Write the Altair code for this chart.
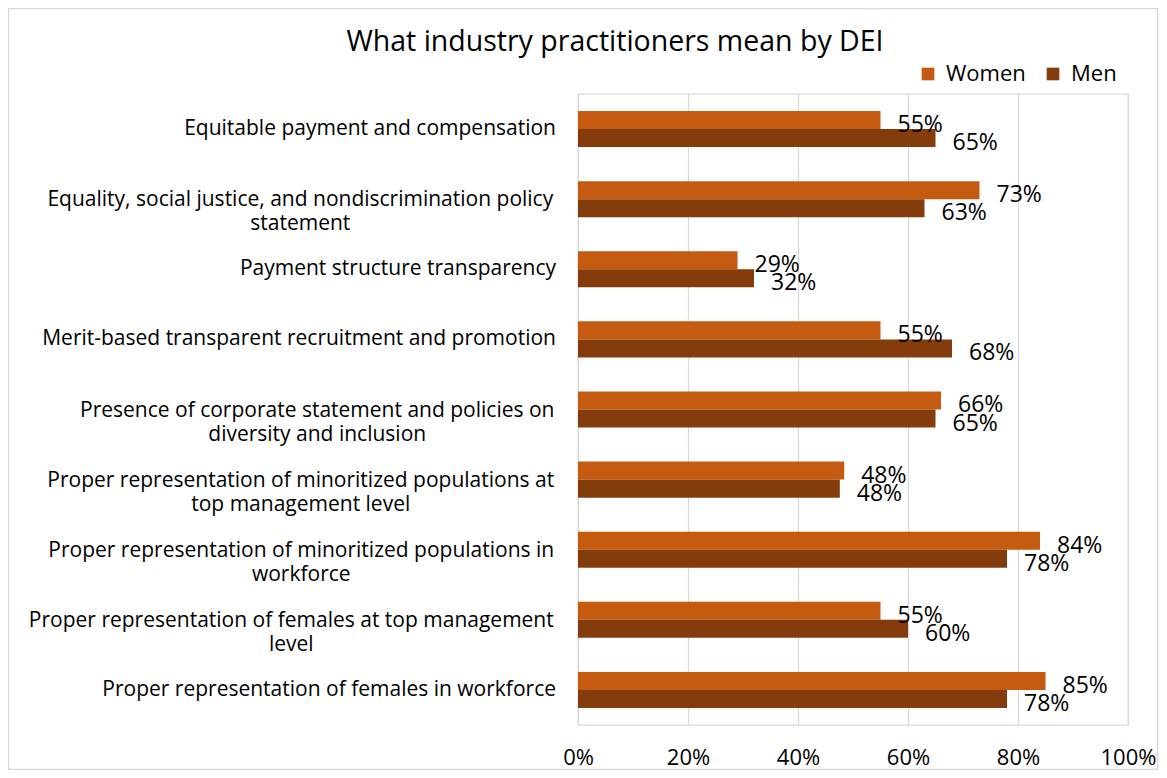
import altair as alt
import pandas as pd

# ---------------- data ----------------
categories = [
    "Equitable payment and compensation",
    "Equality, social justice, and nondiscrimination policy statement",
    "Payment structure transparency",
    "Merit-based transparent recruitment and promotion",
    "Presence of corporate statement and policies on diversity and inclusion",
    "Proper representation of minoritized populations at top management level",
    "Proper representation of minoritized populations in workforce",
    "Proper representation of females at top management level",
    "Proper representation of females in workforce",
]
label_lines = [
    ["Equitable payment and compensation"],
    ["Equality, social justice, and nondiscrimination policy", "statement"],
    ["Payment structure transparency"],
    ["Merit-based transparent recruitment and promotion"],
    ["Presence of corporate statement and policies on", "diversity and inclusion"],
    ["Proper representation of minoritized populations at", "top management level"],
    ["Proper representation of minoritized populations in", "workforce"],
    ["Proper representation of females at top management", "level"],
    ["Proper representation of females in workforce"],
]
women = [55, 73, 29, 55, 66, 48.4, 84, 55, 85]
men = [65, 63, 32, 68, 65, 47.6, 78, 60, 78]
series = ["Women", "Men"]
colors = ["#C55A11", "#843C0C"]
x_ticks = [0, 20, 40, 60, 80, 100]
title_text = "What industry practitioners mean by DEI"

# ---------------- styling ----------------
FONT = "Open Sans"
LABEL_SIZE = 21
W, H = 550, 631
LABEL_GAP = 22  # gap between label block and plot

# approximate Open Sans advance widths (em) for centring wrapped labels
_NARROW = {"i": 0.26, "j": 0.26, "l": 0.26, ".": 0.27, ",": 0.25, ";": 0.27,
           ":": 0.27, "'": 0.2, "!": 0.27, "I": 0.3, " ": 0.26, "-": 0.32,
           "f": 0.34, "t": 0.36, "r": 0.41, "s": 0.48, "c": 0.48,
           "a": 0.56, "e": 0.56, "v": 0.52, "y": 0.52, "k": 0.52,
           "x": 0.52, "z": 0.47, "m": 0.93, "w": 0.8}


def est_width(s, size):
    w = 0.0
    for ch in s:
        if ch in _NARROW:
            w += _NARROW[ch]
        elif ch.isupper():
            w += 0.66
        else:
            w += 0.61
    return w * size


rows = []
for c, w, m in zip(categories, women, men):
    rows.append({"category": c, "series": "Women", "value": w})
    rows.append({"category": c, "series": "Men", "value": m})
bars_df = pd.DataFrame(rows)

lab_rows = []
for c, lines in zip(categories, label_lines):
    cx_px = -LABEL_GAP - est_width(lines[0], LABEL_SIZE) / 2
    lab_rows.append({
        "category": c,
        "line1": lines[0],
        "lines": lines,
        "n": len(lines),
        "cx": cx_px / W * 100.0,
    })
labels_df = pd.DataFrame(lab_rows)

xscale = alt.Scale(domain=[0, 100], nice=False, zero=True)
Y = alt.Y("category:N", sort=categories, axis=None,
          scale=alt.Scale(paddingInner=0.486, paddingOuter=0.243))
YOFF = alt.YOffset("series:N", sort=series, scale=alt.Scale(domain=series))

border = alt.Chart(pd.DataFrame({"a": [0]})).mark_rect(
    fillOpacity=0, stroke="#d9d9d9", strokeWidth=1.5
).encode(
    x=alt.value(-569.5), x2=alt.value(579.5),
    y=alt.value(-85.5), y2=alt.value(675.5),
)

bars = alt.Chart(bars_df).mark_bar().encode(
    x=alt.X("value:Q", scale=xscale,
            axis=alt.Axis(values=x_ticks, labelExpr="datum.value + '%'",
                          grid=True, gridColor="#d9d9d9", gridWidth=1.3,
                          domain=False, ticks=False, labelFont=FONT,
                          labelFontSize=22, labelColor="#000000",
                          labelFlush=False, labelPadding=22, title=None)),
    y=Y,
    yOffset=YOFF,
    color=alt.Color("series:N", scale=alt.Scale(domain=series, range=colors),
                    legend=alt.Legend(orient="none", legendX=339, legendY=-31,
                                      direction="horizontal", title=None,
                                      symbolType="square", symbolSize=160,
                                      symbolStrokeWidth=0, labelFont=FONT,
                                      labelFontSize=22, labelColor="#000000",
                                      columnPadding=16, labelOffset=7)),
)

values = alt.Chart(bars_df).transform_calculate(
    label="format(datum.value / 100, '.0%')"
).mark_text(align="left", baseline="middle", dx=17, dy=5, font=FONT,
            fontSize=23, color="#000000").encode(
    x=alt.X("value:Q", scale=xscale),
    y=Y,
    yOffset=YOFF,
    text="label:N",
)

single = alt.Chart(labels_df).transform_filter("datum.n == 1").mark_text(
    align="right", baseline="middle", font=FONT, fontSize=LABEL_SIZE,
    color="#000000"
).encode(y=Y, x=alt.value(-LABEL_GAP), text="line1:N")

double = alt.Chart(labels_df).transform_filter("datum.n == 2").mark_text(
    align="center", baseline="middle", font=FONT, fontSize=LABEL_SIZE,
    lineHeight=24, dy=1, color="#000000"
).encode(y=Y, x=alt.X("cx:Q", scale=xscale), text="lines")

title = alt.Chart(pd.DataFrame({"t": [title_text]})).mark_text(
    align="center", baseline="alphabetic", font=FONT, fontSize=28.5,
    color="#000000"
).encode(x=alt.value(37), y=alt.value(-43), text="t:N")

chart = alt.layer(border, bars, values, single, double, title).properties(
    width=W, height=H,
    padding={"left": 570, "top": 86, "right": 31, "bottom": 45},
    autosize=alt.AutoSizeParams(type="none"),
).configure_view(stroke="#d9d9d9", strokeWidth=1.3)

chart.save("out.html", embed_options={"renderer": "svg", "actions": False})
